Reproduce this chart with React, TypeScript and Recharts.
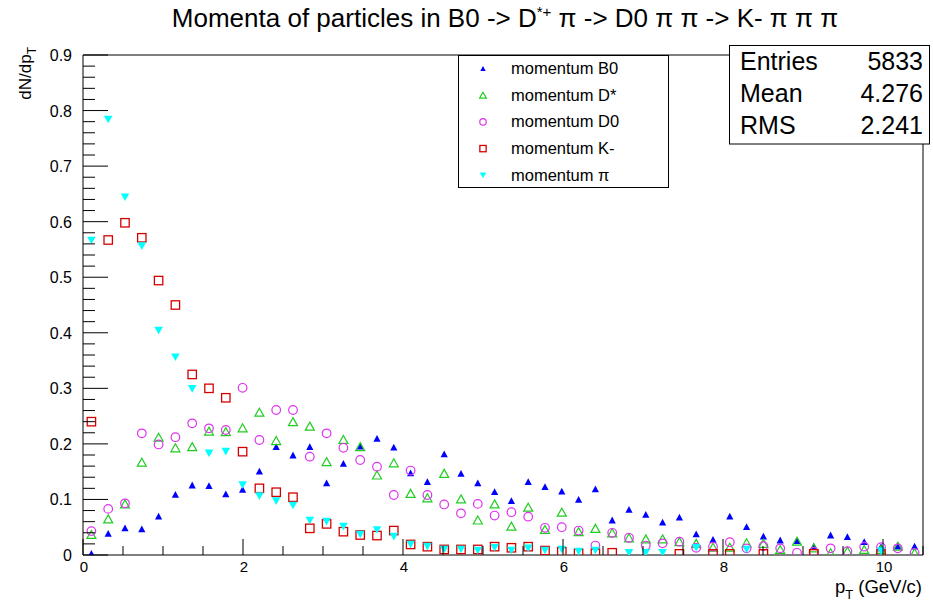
import React from 'react';
import { ScatterChart, Scatter, XAxis, YAxis, ReferenceArea } from 'recharts';

// histogram binning: 50 bins on [0, 10.5]
const nBins = 50;
const xLow = 0;
const xHigh = 10.5;
const binCenters = Array.from({ length: nBins }, (_, i) => +(xLow + (i + 0.5) * (xHigh - xLow) / nBins).toFixed(4));

const momentumB0 = [
  0.003, 0.039, 0.049, 0.047, 0.070, 0.109, 0.126, 0.125, 0.110, 0.118,
  0.151, 0.195, 0.180, 0.195, 0.130, 0.165, 0.196, 0.210, 0.194, 0.148,
  0.132, 0.182, 0.147, 0.130, 0.114, 0.098, 0.132, 0.123, 0.115, 0.100,
  0.119, 0.063, 0.082, 0.073, 0.059, 0.068, 0.038, 0.028, 0.070, 0.051,
  0.034, 0.027, 0.026, 0.016, 0.036, 0.033, 0.024, 0.015, 0.016, 0.016,
];
const momentumDstar = [
  0.037, 0.065, 0.092, 0.167, 0.212, 0.193, 0.195, 0.223, 0.222, 0.229,
  0.257, 0.206, 0.240, 0.232, 0.168, 0.208, 0.195, 0.144, 0.166, 0.111,
  0.103, 0.147, 0.101, 0.063, 0.092, 0.052, 0.086, 0.046, 0.077, 0.042,
  0.048, 0.040, 0.031, 0.029, 0.029, 0.024, 0.021, 0.014, 0.014, 0.022,
  0.021, 0.010, 0.025, 0.013, 0.004, 0.007, 0.010, 0.010, 0.016, 0.004,
];
const momentumD0 = [
  0.043, 0.083, 0.093, 0.219, 0.199, 0.212, 0.237, 0.228, 0.225, 0.301,
  0.207, 0.261, 0.261, 0.177, 0.219, 0.193, 0.171, 0.159, 0.108, 0.152,
  0.108, 0.091, 0.075, 0.092, 0.071, 0.077, 0.069, 0.049, 0.050, 0.044,
  0.017, 0.040, 0.031, 0.017, 0.021, 0.024, 0.013, 0.015, 0.023, 0.012,
  0.016, 0.012, 0.004, 0.006, 0.012, 0.007, 0.015, 0.014, 0.012, 0.004,
];
const momentumK = [
  0.240, 0.567, 0.598, 0.571, 0.494, 0.450, 0.325, 0.300, 0.283, 0.186,
  0.120, 0.113, 0.104, 0.048, 0.056, 0.042, 0.036, 0.035, 0.044, 0.019,
  0.015, 0.010, 0.010, 0.010, 0.015, 0.013, 0.015, 0.008, 0.006, 0.003,
  0.003, 0.004, null, null, null, 0.002, null, 0.002, 0.002, null,
  0.002, null, null, 0.002, null, null, null, 0.002, null, null,
];
const momentumPi = [
  0.566, 0.784, 0.644, 0.556, 0.404, 0.356, 0.299, 0.183, 0.186, 0.126,
  0.106, 0.097, 0.089, 0.062, 0.060, 0.051, 0.037, 0.045, 0.033, 0.019,
  0.015, 0.010, 0.010, 0.008, 0.013, 0.008, 0.012, 0.008, 0.010, 0.006,
  0.008, null, 0.004, 0.004, 0.004, null, 0.013, null, null, 0.010,
  null, null, null, null, null, null, null, 0.007, null, null,
];

const xMajorTicks = [0, 2, 4, 6, 8, 10];
const xMinorStep = 0.5;
const yMajorTicks = [0, 0.1, 0.2, 0.3, 0.4, 0.5, 0.6, 0.7, 0.8, 0.9];
const yTickLabels = ['0', '0.1', '0.2', '0.3', '0.4', '0.5', '0.6', '0.7', '0.8', '0.9'];
const yMinorStep = 0.02;

const statsRows = [
  ['Entries', '5833'],
  ['Mean', '4.276'],
  ['RMS', '2.241'],
];

const xTicks = Array.from({ length: Math.round(xHigh / xMinorStep) + 1 }, (_, i) => +(i * xMinorStep).toFixed(3));
const yTicks = Array.from({ length: Math.round(0.9 / yMinorStep) + 1 }, (_, i) => +(i * yMinorStep).toFixed(3));

const FONT = '"Liberation Sans", Arial, Helvetica, sans-serif';

type Kind = 'triUp' | 'triUpOpen' | 'circle' | 'square' | 'triDown';

const series: { name: string; values: (number | null)[]; color: string; kind: Kind }[] = [
  { name: 'momentum B0', values: momentumB0, color: '#0000ff', kind: 'triUp' },
  { name: 'momentum D*', values: momentumDstar, color: '#22cc22', kind: 'triUpOpen' },
  { name: 'momentum D0', values: momentumD0, color: '#dd33ee', kind: 'circle' },
  { name: 'momentum K-', values: momentumK, color: '#d40000', kind: 'square' },
  { name: 'momentum π', values: momentumPi, color: '#00ffff', kind: 'triDown' },
];

function Marker({ cx, cy, kind, color, s = 1 }: any) {
  if (cx == null || cy == null || isNaN(cx) || isNaN(cy)) return null;
  switch (kind) {
    case 'triUp': {
      const w = 3.6 * s, h = 3.4 * s;
      return <polygon points={`${cx},${cy - h} ${cx + w},${cy + h} ${cx - w},${cy + h}`} fill={color} />;
    }
    case 'triUpOpen': {
      const w = 4.5 * s, h = 4 * s;
      return <polygon points={`${cx},${cy - h} ${cx + w},${cy + h} ${cx - w},${cy + h}`} fill="none" stroke={color} strokeWidth={1.2} />;
    }
    case 'circle':
      return <circle cx={cx} cy={cy} r={4.3 * s} fill="none" stroke={color} strokeWidth={1.2} />;
    case 'square': {
      const a = 4.2 * s;
      return <rect x={cx - a} y={cy - a} width={2 * a} height={2 * a} fill="none" stroke={color} strokeWidth={1.3} />;
    }
    case 'triDown': {
      const w = 4.3 * s, h = 3.8 * s;
      return <polygon points={`${cx - w},${cy - h} ${cx + w},${cy - h} ${cx},${cy + h}`} fill={color} />;
    }
  }
  return null;
}

function XTick({ x, y, payload }: any) {
  const v = payload.value;
  const major = xMajorTicks.includes(v);
  return (
    <g>
      <line x1={x} y1={y} x2={x} y2={y - (major ? 16 : 9)} stroke="#000" strokeWidth={1} />
      {major && (
        <text x={x + 1} y={y + 17} textAnchor="middle" fontSize={15} fontFamily={FONT} fill="#000">
          {String(v)}
        </text>
      )}
    </g>
  );
}

function YTick({ x, y, payload }: any) {
  const v = payload.value;
  const idx = yMajorTicks.findIndex((t) => Math.abs(t - v) < 1e-6);
  const major = idx >= 0;
  return (
    <g>
      <line x1={x} y1={y} x2={x + (major ? 25 : 12)} y2={y} stroke="#000" strokeWidth={1} />
      {major && (
        <text x={x - 11} y={y + 6} textAnchor="end" fontSize={16} fontFamily={FONT} fill="#000">
          {yTickLabels[idx]}
        </text>
      )}
    </g>
  );
}

export default function App() {
  const arrow = '->';
  return (
    <div style={{ position: 'absolute', left: 0, top: 0, width: 933, height: 610, background: '#fff' }}>
      <ScatterChart width={933} height={610} margin={{ top: 55, right: 10, bottom: 0, left: 0 }}>
        <XAxis
          type="number"
          dataKey="x"
          domain={[xLow, xHigh]}
          ticks={xTicks}
          interval={0}
          height={55}
          axisLine={false}
          tickLine={false}
          tickSize={0}
          tickMargin={0}
          tick={<XTick />}
          allowDataOverflow
        />
        <YAxis
          type="number"
          dataKey="y"
          domain={[0, 0.9]}
          ticks={yTicks}
          interval={0}
          width={83}
          axisLine={false}
          tickLine={false}
          tickSize={0}
          tickMargin={0}
          tick={<YTick />}
          allowDataOverflow
        />
        <ReferenceArea x1={xLow} x2={xHigh} y1={0} y2={0.9} fill="none" stroke="#000" strokeWidth={1} ifOverflow="visible" />
        {series.map((s) => (
          <Scatter
            key={s.name}
            name={s.name}
            data={binCenters
              .map((x, i) => ({ x, y: s.values[i] }))
              .filter((d) => d.y != null)}
            isAnimationActive={false}
            shape={(p: any) => <Marker cx={p.cx} cy={p.cy} kind={s.kind} color={s.color} />}
          />
        ))}
      </ScatterChart>

      <svg width={933} height={610} style={{ position: 'absolute', left: 0, top: 0, pointerEvents: 'none' }}>
        {/* title */}
        <text x={505} y={27} textAnchor="middle" fontSize={26} fontFamily={FONT} fill="#000">
          {`Momenta of particles in B0 ${arrow} D`}
          <tspan dy={-10} fontSize={15}>*+</tspan>
          <tspan dy={10}>{` π ${arrow} D0 π π ${arrow} K- π π π`}</tspan>
        </text>

        {/* y axis title */}
        <text transform="translate(31,47) rotate(-90)" textAnchor="end" fontSize={17} fontFamily={FONT} fill="#000">
          dN/dp<tspan dy={5} fontSize={12}>T</tspan>
        </text>

        {/* x axis title */}
        <text x={922} y={593} textAnchor="end" fontSize={18.5} fontFamily={FONT} fill="#000">
          p<tspan dy={6} fontSize={13}>T</tspan>
          <tspan dy={-6}>{' (GeV/c)'}</tspan>
        </text>

        {/* legend */}
        <rect x={458.5} y={55.5} width={210} height={132} fill="#fff" stroke="#000" strokeWidth={1} />
        {series.map((s, i) => (
          <g key={s.name}>
            <Marker cx={483} cy={68.5 + i * 26.7} kind={s.kind} color={s.color} s={0.75} />
            <text x={511} y={74 + i * 26.7} fontSize={16.5} fontFamily={FONT} fill="#000">
              {s.name}
            </text>
          </g>
        ))}

        {/* stats box */}
        <rect x={729.5} y={45.5} width={200} height={98.5} fill="#fff" stroke="#000" strokeWidth={1} />
        {statsRows.map(([k, v], i) => (
          <g key={k}>
            <text x={740} y={70 + i * 32} fontSize={25} fontFamily={FONT} fill="#000">{k}</text>
            <text x={923} y={70 + i * 32} textAnchor="end" fontSize={25} fontFamily={FONT} fill="#000">{v}</text>
          </g>
        ))}
      </svg>
    </div>
  );
}
